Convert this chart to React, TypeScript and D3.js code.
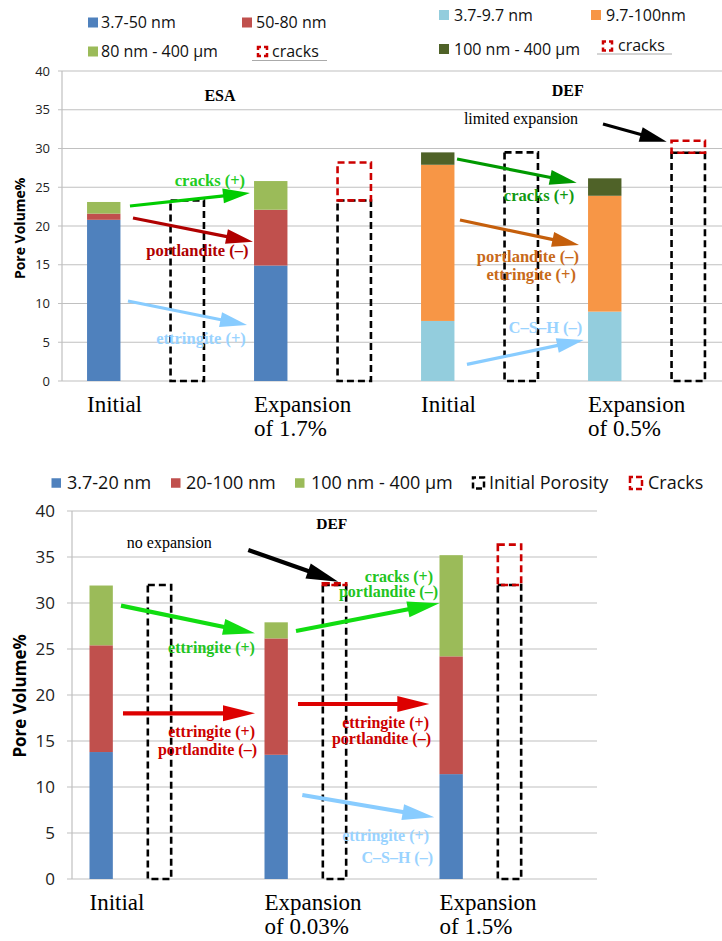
import React, { useEffect, useRef } from "react";
import * as d3 from "d3";

// ---- top-left panel: ESA ----
const esaCategories = ["Initial", "Expansion of 1.7%"];
const esaSmall = [20.8, 14.9]; // 3.7-50 nm
const esaMid = [0.8, 7.2]; // 50-80 nm
const esaLarge = [1.5, 3.7]; // 80 nm - 400 µm
const esaInitialPorosity = [23.3, 23.3];
const esaCracks = [0, 4.9];

// ---- top-right panel: DEF ----
const defCategories = ["Initial", "Expansion of 0.5%"];
const defSmall = [7.75, 8.95]; // 3.7-9.7 nm
const defMid = [20.15, 14.95]; // 9.7-100nm
const defLarge = [1.6, 2.25]; // 100 nm - 400 µm
const defInitialPorosity = [29.5, 29.45];
const defCracks = [0, 1.55];

// ---- bottom panel: DEF ----
const botCategories = ["Initial", "Expansion of 0.03%", "Expansion of 1.5%"];
const botSmall = [13.8, 13.5, 11.4]; // 3.7-20 nm
const botMid = [11.6, 12.65, 12.8]; // 20-100 nm
const botLarge = [6.5, 1.75, 11.0]; // 100 nm - 400 µm
const botInitialPorosity = [31.95, 31.95, 31.95];
const botCracks = [0, 0.2, 4.4];

const yTicks = [0, 5, 10, 15, 20, 25, 30, 35, 40];

const SANS = "'Open Sans', sans-serif";
const SERIF = "'Liberation Serif', 'Times New Roman', serif";

// annotations, in (slot, value) units of each panel
const topArrows = [
  { from: [0.814, 22.58], to: [2.251, 24.26], color: "#00cc00" },
  { from: [0.85, 21.03], to: [2.287, 17.97], color: "#b00000" },
  { from: [0.79, 10.32], to: [2.216, 7.23], color: "#88ccff" },
  { from: [4.731, 28.65], to: [6.164, 25.59], color: "#009900" },
  { from: [4.766, 20.77], to: [6.192, 17.55], color: "#c55f0c" },
  { from: [4.85, 2.15], to: [6.248, 5.29], color: "#88ccff" },
  { from: [6.479, 33.16], to: [7.242, 30.88], color: "#000000" },
];
const topLabels = [
  { text: "cracks (+)", at: [1.772, 25.85], anchor: "middle", color: "#22cc22" },
  { text: "portlandite (\u2013)", at: [1.621, 16.81], anchor: "middle", color: "#b00000" },
  { text: "ettringite (+)", at: [1.665, 5.55], anchor: "middle", color: "#99d3ff" },
  { text: "cracks (+)", at: [5.713, 24.0], anchor: "middle", color: "#119911" },
  { text: "portlandite (\u2013)", at: [6.192, 16.1], anchor: "end", color: "#c86a1a" },
  { text: "ettringite (+)", at: [6.156, 13.75], anchor: "end", color: "#c86a1a" },
  { text: "C\u2013S\u2013H (\u2013)", at: [5.79, 7.0], anchor: "middle", color: "#99d3ff" },
];
const botArrows = [
  { from: [3.022, 35.76], to: [4.565, 32.32], color: "#000000" },
  { from: [0.84, 29.71], to: [3.137, 26.7], color: "#11dd11" },
  { from: [3.84, 26.96], to: [6.297, 29.97], color: "#11dd11" },
  { from: [0.874, 18.01], to: [3.137, 18.01], color: "#dd0000" },
  { from: [3.874, 19.02], to: [6.125, 19.02], color: "#dd0000" },
  { from: [3.948, 9.13], to: [6.211, 6.7], color: "#88ccff" },
];
const botLabels = [
  { text: "ettringite (+)", at: [2.392, 25.18], anchor: "middle", color: "#22c422" },
  { text: "cracks (+)", at: [6.189, 32.93], anchor: "end", color: "#22c422" },
  { text: "portlandite (\u2013)", at: [6.275, 31.23], anchor: "end", color: "#22c422" },
  { text: "ettringite (+)", at: [3.137, 16.01], anchor: "end", color: "#cc0000" },
  { text: "portlandite (\u2013)", at: [3.172, 14.1], anchor: "end", color: "#cc0000" },
  { text: "ettringite (+)", at: [6.12, 17.03], anchor: "end", color: "#cc0000" },
  { text: "portlandite (\u2013)", at: [6.155, 15.33], anchor: "end", color: "#cc0000" },
  { text: "ettringite (+)", at: [6.12, 4.78], anchor: "end", color: "#99d3ff" },
  { text: "C\u2013S\u2013H (\u2013)", at: [6.189, 2.32], anchor: "end", color: "#99d3ff" },
];

function drawArrow(g, x1, y1, x2, y2, color, width, headLen, headW) {
  const a = Math.atan2(y2 - y1, x2 - x1);
  const bx = x2 - headLen * Math.cos(a);
  const by = y2 - headLen * Math.sin(a);
  const px = (-Math.sin(a) * headW) / 2;
  const py = (Math.cos(a) * headW) / 2;
  g.append("line")
    .attr("x1", x1)
    .attr("y1", y1)
    .attr("x2", bx + Math.cos(a) * 3)
    .attr("y2", by + Math.sin(a) * 3)
    .attr("stroke", color)
    .attr("stroke-width", width);
  g.append("path")
    .attr("d", `M${x2},${y2}L${bx + px},${by + py}L${bx - px},${by - py}Z`)
    .attr("fill", color);
}

function drawGrid(svg, y, x0, x1, fontSize, tickSize, pad) {
  const g = svg.append("g");
  g.selectAll("line.grid")
    .data(yTicks)
    .join("line")
    .attr("x1", x0 - tickSize)
    .attr("x2", x1)
    .attr("y1", (d) => y(d))
    .attr("y2", (d) => y(d))
    .attr("stroke", "#c0c0c0")
    .attr("stroke-width", 1.2);
  g.append("line")
    .attr("x1", x0)
    .attr("x2", x0)
    .attr("y1", y(40))
    .attr("y2", y(0))
    .attr("stroke", "#c0c0c0")
    .attr("stroke-width", 1.2);
  g.selectAll("text")
    .data(yTicks)
    .join("text")
    .attr("x", x0 - tickSize - pad)
    .attr("y", (d) => y(d))
    .attr("dy", "0.35em")
    .attr("text-anchor", "end")
    .attr("font-family", SANS)
    .attr("font-size", fontSize)
    .attr("fill", "#222")
    .text((d) => d);
}

function drawBars(svg, x, y, slot0, perCat, cats, layers, colors, initial, cracks, dashW) {
  const bw = x.bandwidth() * 0.4;
  const off = x.bandwidth() * 0.3;
  const rows = cats.map((c, i) => ({ i, s0: layers[0][i], s1: layers[1][i], s2: layers[2][i] }));
  const stacked = d3.stack().keys(["s0", "s1", "s2"])(rows);
  stacked.forEach((layer, k) => {
    svg
      .append("g")
      .attr("fill", colors[k])
      .selectAll("rect")
      .data(layer)
      .join("rect")
      .attr("x", (d) => x(slot0 + d.data.i * perCat) + off)
      .attr("y", (d) => y(d[1]))
      .attr("width", bw)
      .attr("height", (d) => y(d[0]) - y(d[1]));
  });
  // initial porosity boxes (black dashed)
  svg
    .append("g")
    .selectAll("rect")
    .data(initial)
    .join("rect")
    .attr("x", (d, i) => x(slot0 + i * perCat + 1) + off)
    .attr("y", (d) => y(d))
    .attr("width", bw)
    .attr("height", (d) => y(0) - y(d))
    .attr("fill", "none")
    .attr("stroke", "#000")
    .attr("stroke-width", dashW)
    .attr("stroke-dasharray", "7,4");
  // cracks (red dashed)
  svg
    .append("g")
    .selectAll("rect")
    .data(cracks.map((c, i) => ({ c, base: initial[i], i })).filter((d) => d.c > 0))
    .join("rect")
    .attr("x", (d) => x(slot0 + d.i * perCat + 1) + off)
    .attr("y", (d) => y(d.base + d.c))
    .attr("width", bw)
    .attr("height", (d) => y(d.base) - y(d.base + d.c))
    .attr("fill", "none")
    .attr("stroke", "#cc0000")
    .attr("stroke-width", dashW)
    .attr("stroke-dasharray", "7,4");
  // category labels
  cats.forEach((c, i) => {
    const lines = c.includes(" of ") ? [c.split(" of ")[0], "of " + c.split(" of ")[1]] : [c];
    const t = svg
      .append("text")
      .attr("font-family", SERIF)
      .attr("font-size", 23)
      .attr("fill", "#000");
    lines.forEach((ln, j) => {
      t.append("tspan")
        .attr("x", x(slot0 + i * perCat) + off)
        .attr("y", y(0) + 23 + j * 24)
        .attr("dy", "0.35em")
        .text(ln);
    });
  });
}

function legendSquare(svg, x, y, size, color) {
  svg.append("rect").attr("x", x).attr("y", y - size / 2).attr("width", size).attr("height", size).attr("fill", color);
}

function legendDashed(svg, x, y, size, color) {
  svg
    .append("rect")
    .attr("x", x + 1)
    .attr("y", y - size / 2 + 1)
    .attr("width", size - 2)
    .attr("height", size - 2)
    .attr("fill", "none")
    .attr("stroke", color)
    .attr("stroke-width", 2.5)
    .attr("stroke-dasharray", "6,3")
    .attr("stroke-dashoffset", 3);
}

function legendText(svg, x, y, size, text) {
  svg
    .append("text")
    .attr("x", x)
    .attr("y", y)
    .attr("dy", "0.35em")
    .attr("font-family", SANS)
    .attr("font-size", size)
    .attr("fill", "#111")
    .text(text);
}

const App = () => {
  const ref = useRef();

  useEffect(() => {
    const svg = d3.select(ref.current).attr("width", 722).attr("height", 941);
    svg.selectAll("*").remove();

    // ================= TOP =================
    const yTop = d3.scaleLinear().domain([0, 40]).range([381, 71]);
    const xTop = d3.scaleBand().domain(d3.range(8)).range([62, 730]).padding(0);
    const sTop = d3.scaleLinear().domain([0, 8]).range([62, 730]);

    drawGrid(svg, yTop, 62, 722, 13, 4, 8);

    drawBars(svg, xTop, yTop, 0, 2, esaCategories, [esaSmall, esaMid, esaLarge],
      ["#4f81bd", "#c0504d", "#9bbb59"], esaInitialPorosity, esaCracks, 2.6);
    drawBars(svg, xTop, yTop, 4, 2, defCategories, [defSmall, defMid, defLarge],
      ["#93cddd", "#f79646", "#4f6228"], defInitialPorosity, defCracks, 2.6);

    svg.append("text")
      .attr("transform", `translate(20,${yTop(19.7)}) rotate(-90)`)
      .attr("text-anchor", "middle")
      .attr("dy", "0.35em")
      .attr("font-family", SANS)
      .attr("font-weight", "bold")
      .attr("font-size", 14)
      .text("Pore Volume%");

    const titleTop = [
      { text: "ESA", at: [1.892, 36.9], size: 16, bold: true },
      { text: "DEF", at: [6.056, 37.46], size: 16, bold: true },
      { text: "limited expansion", at: [5.497, 33.94], size: 16, bold: false },
    ];
    titleTop.forEach((d) => {
      svg.append("text")
        .attr("x", sTop(d.at[0]))
        .attr("y", yTop(d.at[1]))
        .attr("dy", "0.35em")
        .attr("text-anchor", "middle")
        .attr("font-family", SERIF)
        .attr("font-weight", d.bold ? "bold" : "normal")
        .attr("font-size", d.size)
        .text(d.text);
    });

    const gA = svg.append("g");
    topArrows.forEach((a) =>
      drawArrow(gA, sTop(a.from[0]), yTop(a.from[1]), sTop(a.to[0]), yTop(a.to[1]), a.color, 3.2, 27, 15)
    );
    topLabels.forEach((d) => {
      svg.append("text")
        .attr("x", sTop(d.at[0]))
        .attr("y", yTop(d.at[1]))
        .attr("dy", "0.35em")
        .attr("text-anchor", d.anchor)
        .attr("font-family", SERIF)
        .attr("font-weight", "bold")
        .attr("font-size", 16.5)
        .attr("fill", d.color)
        .text(d.text);
    });

    // top legends
    legendSquare(svg, 88, 22.5, 10, "#4f81bd");
    legendText(svg, 101, 22.5, 16, "3.7-50 nm");
    legendSquare(svg, 242, 22.5, 10, "#c0504d");
    legendText(svg, 256, 22.5, 16, "50-80 nm");
    legendSquare(svg, 88, 51.5, 10, "#9bbb59");
    legendText(svg, 101, 51.5, 16, "80 nm - 400 \u00b5m");
    legendDashed(svg, 257, 51.5, 11, "#cc0000");
    legendText(svg, 272, 51, 16, "cracks");
    svg.append("line").attr("x1", 252).attr("x2", 327).attr("y1", 60.5).attr("y2", 60.5).attr("stroke", "#aaa");

    legendSquare(svg, 439, 15, 10, "#93cddd");
    legendText(svg, 454, 15, 16, "3.7-9.7 nm");
    legendSquare(svg, 591, 15, 10, "#f79646");
    legendText(svg, 606, 15, 16, "9.7-100nm");
    legendSquare(svg, 439, 49, 10, "#4f6228");
    legendText(svg, 454, 49, 16, "100 nm - 400 \u00b5m");
    legendDashed(svg, 602, 46, 11, "#cc0000");
    legendText(svg, 618, 45, 16, "cracks");
    svg.append("line").attr("x1", 597).attr("x2", 672).attr("y1", 54).attr("y2", 54).attr("stroke", "#aaa");

    // ================= BOTTOM =================
    const yBot = d3.scaleLinear().domain([0, 40]).range([879, 511]);
    const xBot = d3.scaleBand().domain(d3.range(9)).range([72, 597]).padding(0);
    const sBot = d3.scaleLinear().domain([0, 9]).range([72, 597]);

    drawGrid(svg, yBot, 72, 597, 17, 5, 12);

    drawBars(svg, xBot, yBot, 0, 3, botCategories, [botSmall, botMid, botLarge],
      ["#4f81bd", "#c0504d", "#9bbb59"], botInitialPorosity, botCracks, 2.6);

    svg.append("text")
      .attr("transform", `translate(20,${yBot(19.9)}) rotate(-90)`)
      .attr("text-anchor", "middle")
      .attr("dy", "0.35em")
      .attr("font-family", SANS)
      .attr("font-weight", "bold")
      .attr("font-size", 17)
      .text("Pore Volume%");

    const titleBot = [
      { text: "DEF", at: [4.452, 38.59], size: 15.5, bold: true },
      { text: "no expansion", at: [1.668, 36.63], size: 16, bold: false },
    ];
    titleBot.forEach((d) => {
      svg.append("text")
        .attr("x", sBot(d.at[0]))
        .attr("y", yBot(d.at[1]))
        .attr("dy", "0.35em")
        .attr("text-anchor", "middle")
        .attr("font-family", SERIF)
        .attr("font-weight", d.bold ? "bold" : "normal")
        .attr("font-size", d.size)
        .text(d.text);
    });

    const gB = svg.append("g");
    botArrows.forEach((a) =>
      drawArrow(gB, sBot(a.from[0]), yBot(a.from[1]), sBot(a.to[0]), yBot(a.to[1]), a.color, 4.2, 32, 16)
    );
    botLabels.forEach((d) => {
      svg.append("text")
        .attr("x", sBot(d.at[0]))
        .attr("y", yBot(d.at[1]))
        .attr("dy", "0.35em")
        .attr("text-anchor", d.anchor)
        .attr("font-family", SERIF)
        .attr("font-weight", "bold")
        .attr("font-size", 16)
        .attr("fill", d.color)
        .text(d.text);
    });

    // bottom legend
    const ly = 483;
    legendSquare(svg, 51.5, ly, 9.5, "#4f81bd");
    legendText(svg, 67, ly, 18, "3.7-20 nm");
    legendSquare(svg, 171, ly, 9.5, "#c0504d");
    legendText(svg, 186, ly, 18, "20-100 nm");
    legendSquare(svg, 295, ly, 9.5, "#9bbb59");
    legendText(svg, 311, ly, 18, "100 nm - 400 \u00b5m");
    legendDashed(svg, 472, ly, 13, "#000");
    legendText(svg, 489, ly, 18, "Initial Porosity");
    legendDashed(svg, 629, ly, 14, "#cc0000");
    legendText(svg, 648, ly, 18, "Cracks");
  }, []);

  return <svg ref={ref} style={{ position: "absolute", left: 0, top: 0 }}></svg>;
};

export default App;
